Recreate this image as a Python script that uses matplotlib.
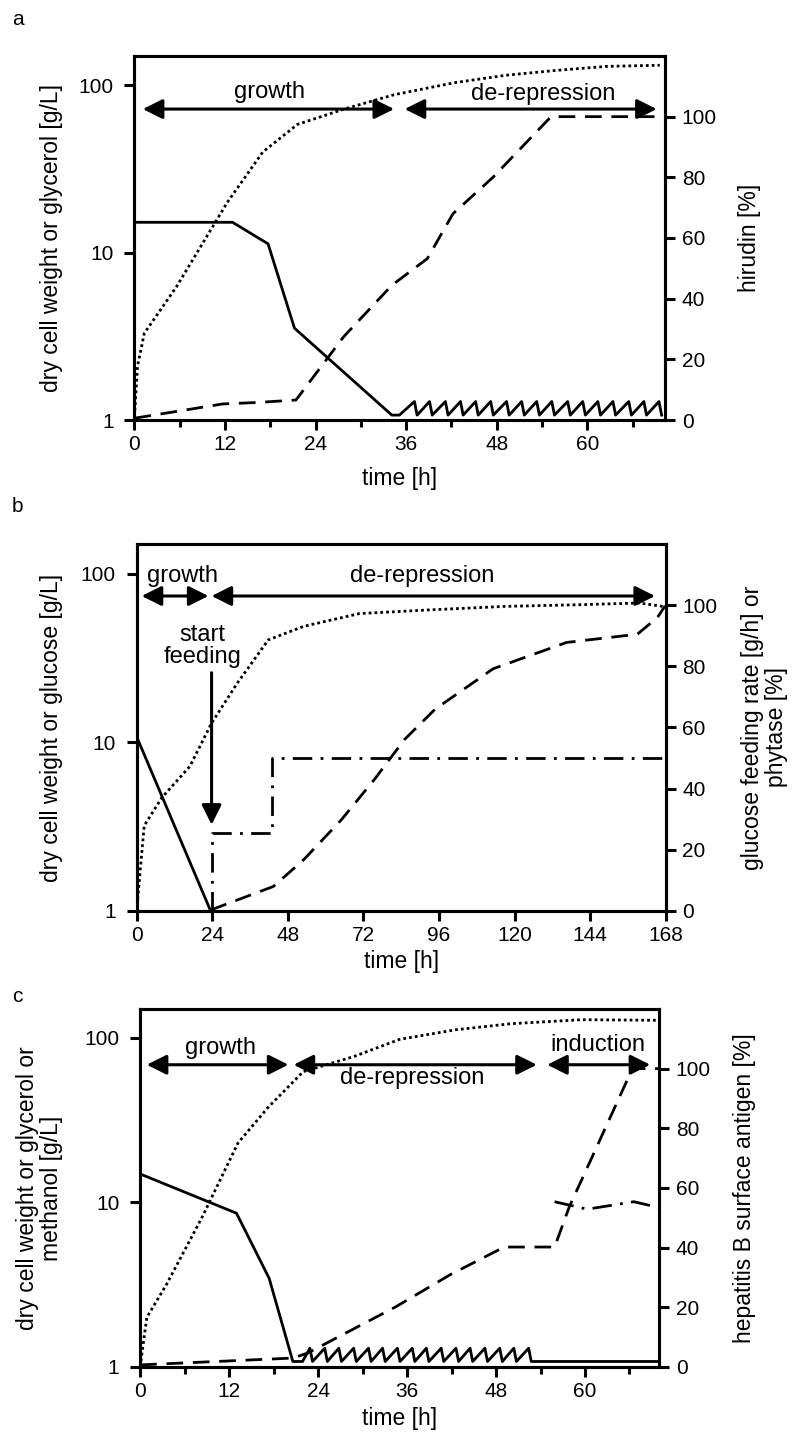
import matplotlib
matplotlib.use('Agg')
import matplotlib.pyplot as plt
from matplotlib.ticker import FixedLocator, NullLocator

plt.rcParams['font.family'] = ['Liberation Sans', 'DejaVu Sans']
plt.rcParams['font.size'] = 15

# ---- panel a : hirudin ----
a_t_dcw = [0, 0.4, 1.3, 5.6, 12.3, 17.0, 21.6, 27.7, 34.4, 42.5, 49.2, 55.9, 62.6, 69.6]
a_dcw = [1.05, 2.1, 3.3, 6.3, 20, 40, 58.5, 72, 88, 104, 115, 123, 130, 132]

a_t_hir = [0, 11.7, 16.4, 21.4, 27.7, 34.1, 38.8, 42.2, 47.5, 55.2, 70.3]
a_hir = [0.6, 5.3, 5.8, 6.6, 27.4, 44.4, 53.2, 68, 80, 100, 100]

a_t_gly = [0, 13.0, 17.7, 21.2, 34.1, 35.1]
a_gly = [15.2, 15.2, 11.3, 3.54, 1.07, 1.07]
a_pulse_peak = [37.1, 39.1, 41.2, 43.2, 45.2, 47.2, 49.3, 51.3, 53.3, 55.3, 57.4, 59.4, 61.4, 63.4, 65.5, 67.5, 69.5]
a_pulse_low = [37.45, 39.45, 41.55, 43.55, 45.55, 47.55, 49.65, 51.65, 53.65, 55.65, 57.75, 59.75, 61.75, 63.75, 65.85, 67.85, 69.85]
a_pulse_hi, a_pulse_lo = 1.29, 1.07

# ---- panel b : phytase ----
b_t_dcw = [0, 2.4, 8, 16.9, 23.8, 32, 41.8, 53, 70.7, 93, 117, 141, 159.8, 167]
b_dcw = [1.0, 3.2, 4.7, 7.2, 13, 22.5, 40.5, 48.7, 58, 61, 64, 65.5, 67, 64]

b_t_glc = [0, 23.5]
b_glc = [10.8, 1.0]

b_t_feed = [24, 24, 43, 43, 168]
b_feed = [0, 25.4, 25.4, 50, 50]

b_t_phy = [23.5, 43.4, 53, 65, 75.5, 85, 94.8, 113.2, 136.5, 159, 165.4, 167.8]
b_phy = [0.3, 8, 16.7, 29.8, 43, 56, 66, 79.2, 87.8, 90.5, 96, 99.8]

# ---- panel c : hepatitis B surface antigen ----
c_t_dcw = [0, 0.9, 3.6, 8.4, 13.2, 17.3, 22, 28.8, 35, 42.5, 50, 59.5, 69.8]
c_dcw = [1.0, 2.0, 3.2, 8.2, 23, 38, 62.4, 77, 98, 112, 122, 129, 128]

c_t_sub = [0, 13.0, 17.4, 20.6, 21.9]
c_sub = [14.9, 8.6, 3.46, 1.08, 1.08]
c_pulse_peak = [22.9, 24.9, 26.8, 28.8, 30.8, 32.7, 34.7, 36.7, 38.6, 40.6, 42.6, 44.5, 46.5, 48.5, 50.4, 52.4]
c_pulse_low = [23.25, 25.25, 27.15, 29.15, 31.15, 33.05, 35.05, 37.05, 38.95, 40.95, 42.95, 44.85, 46.85, 48.85, 50.75, 52.75]
c_pulse_hi, c_pulse_lo = 1.30, 1.08
c_t_end = [52.75, 70]
c_end = [1.08, 1.08]

c_t_hbs = [0, 20.7, 22.7, 34.5, 41.8, 49.1, 55.9, 57.9, 60.8, 66.4, 70]
c_hbs = [0.7, 3.0, 4.8, 20.2, 30.9, 40.2, 40.2, 53.8, 69.5, 100, 100]

c_t_meoh = [55.9, 60.3, 66.6, 70]
c_meoh = [10.1, 9.1, 10.1, 9.3]


def sawtooth(t0, y0, peaks, lows, hi, lo):
    xs, ys = list(t0), list(y0)
    for p, l in zip(peaks, lows):
        xs += [p, l]
        ys += [hi, lo]
    return xs, ys


LW = 2.0
DOT = (0, (1.0, 1.1))
DASH = (0, (6, 3.5))
DASHDOT = (0, (7, 3, 1, 3))
LBL = 16.5   # axis labels
ANN = 17     # phase texts


def setup(ax, ax2, xmax, xmajor, xminor, lpos, rpos, llabel, rlabel, xlab_y):
    ax.set_yscale('log')
    ax.set_ylim(1, 150)
    ax.set_xlim(0, xmax)
    ax.yaxis.set_major_locator(FixedLocator([1, 10, 100]))
    ax.set_yticklabels(['1', '10', '100'])
    ax.yaxis.set_minor_locator(NullLocator())
    ax.xaxis.set_major_locator(FixedLocator(xmajor))
    ax.xaxis.set_minor_locator(FixedLocator(xminor))
    ax2.set_ylim(0, 120)
    ax2.yaxis.set_major_locator(FixedLocator([0, 20, 40, 60, 80, 100]))
    for a in (ax, ax2):
        for s in a.spines.values():
            s.set_linewidth(2.2)
    ax.tick_params(axis='x', which='major', direction='out', length=7, width=2.2, pad=4, labelsize=15)
    ax.tick_params(axis='x', which='minor', direction='out', length=5, width=2.2)
    ax.tick_params(axis='y', which='major', direction='out', length=7, width=2.2, pad=8, labelsize=15)
    ax2.tick_params(axis='y', direction='out', length=7, width=2.2, pad=5, labelsize=15)
    ax.set_xlabel('time [h]', fontsize=LBL)
    ax.xaxis.set_label_coords(0.5, xlab_y)
    ax.set_ylabel(llabel, fontsize=LBL, linespacing=1.05)
    ax.yaxis.set_label_coords(lpos, 0.5)
    ax2.set_ylabel(rlabel, fontsize=LBL, linespacing=1.05)
    ax2.yaxis.set_label_coords(rpos, 0.5)


def span(ax, x0, x1, y, style='<|-|>'):
    ax.annotate('', xy=(x1, y), xytext=(x0, y),
                arrowprops=dict(arrowstyle=style + ',head_length=0.6,head_width=0.3',
                                mutation_scale=20, lw=2.2, color='k',
                                shrinkA=0, shrinkB=0))


fig = plt.figure(figsize=(7.93, 14.35), dpi=100)

# panel a
ax = fig.add_axes([0.1696, 0.7073, 0.669, 0.2537])
ax2 = ax.twinx()
setup(ax, ax2, 70.3, [0, 12, 24, 36, 48, 60], [6, 18, 30, 42, 54, 66],
      -0.135, 1.138, 'dry cell weight or glycerol [g/L]', 'hirudin [%]', -0.13)
ax.plot(a_t_dcw, a_dcw, color='k', lw=LW, ls=DOT)
xs, ys = sawtooth(a_t_gly, a_gly, a_pulse_peak, a_pulse_low, a_pulse_hi, a_pulse_lo)
ax.plot(xs, ys, color='k', lw=LW)
ax2.plot(a_t_hir, a_hir, color='k', lw=LW, ls=DASH)
span(ax2, 1.1, 34.4, 102.5)
span(ax2, 35.8, 69.2, 102.5)
ax2.text(17.9, 108, 'growth', ha='center', va='center', fontsize=ANN)
ax2.text(54.2, 107.5, 'de-repression', ha='center', va='center', fontsize=ANN)

# panel b
ax = fig.add_axes([0.1723, 0.3652, 0.6672, 0.2557])
ax2 = ax.twinx()
setup(ax, ax2, 168, [0, 24, 48, 72, 96, 120, 144, 168], [],
      -0.139, 1.142, 'dry cell weight or glucose [g/L]',
      'glucose feeding rate [g/h] or\nphytase [%]', -0.106)
ax.plot(b_t_dcw, b_dcw, color='k', lw=LW, ls=DOT)
ax.plot(b_t_glc, b_glc, color='k', lw=LW)
ax2.plot(b_t_feed, b_feed, color='k', lw=LW, ls=DASHDOT)
ax2.plot(b_t_phy, b_phy, color='k', lw=LW, ls=DASH)
span(ax2, 1.6, 22.8, 103)
span(ax2, 23.8, 164.6, 103)
ax2.annotate('', xy=(23.8, 28.2), xytext=(23.8, 77.9),
             arrowprops=dict(arrowstyle='-|>,head_length=0.6,head_width=0.3',
                             mutation_scale=20, lw=2.2, color='k', shrinkA=0, shrinkB=0))
ax2.text(14.5, 109.5, 'growth', ha='center', va='center', fontsize=ANN)
ax2.text(90.7, 109.5, 'de-repression', ha='center', va='center', fontsize=ANN)
ax2.text(20.9, 86.6, 'start\nfeeding', ha='center', va='center', fontsize=ANN, linespacing=1.0)

# panel c
ax = fig.add_axes([0.1767, 0.0474, 0.6545, 0.2495])
ax2 = ax.twinx()
setup(ax, ax2, 70, [0, 12, 24, 36, 48, 60], [6, 18, 30, 42, 54, 66],
      -0.149, 1.142, 'dry cell weight or glycerol or\nmethanol [g/L]',
      'hepatitis B surface antigen [%]', -0.112)
ax.plot(c_t_dcw, c_dcw, color='k', lw=LW, ls=DOT)
xs, ys = sawtooth(c_t_sub, c_sub, c_pulse_peak, c_pulse_low, c_pulse_hi, c_pulse_lo)
ax.plot(xs + c_t_end, ys + c_end, color='k', lw=LW)
ax.plot(c_t_meoh, c_meoh, color='k', lw=LW, ls=DASHDOT)
ax2.plot(c_t_hbs, c_hbs, color='k', lw=LW, ls=DASH)
span(ax2, 0.9, 20.0, 101.3)
span(ax2, 20.7, 53.5, 101.3)
span(ax2, 54.9, 68.8, 101.3)
ax2.text(10.8, 107, 'growth', ha='center', va='center', fontsize=ANN)
ax2.text(36.7, 97, 'de-repression', ha='center', va='center', fontsize=ANN)
ax2.text(61.7, 108, 'induction', ha='center', va='center', fontsize=ANN)

fig.text(0.0151, 0.9826, 'a', fontsize=15)
fig.text(0.0151, 0.6432, 'b', fontsize=15)
fig.text(0.0151, 0.3017, 'c', fontsize=15)

fig.savefig('out.png', dpi=100)
